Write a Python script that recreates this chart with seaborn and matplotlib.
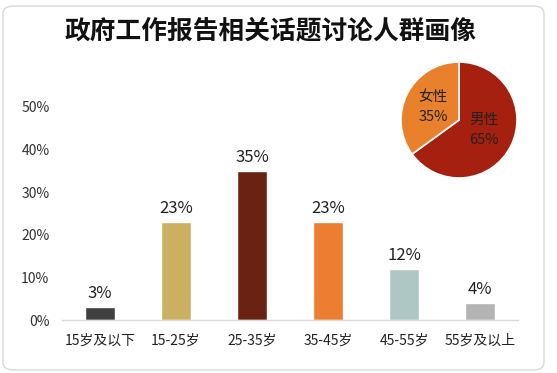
import matplotlib
matplotlib.use("Agg")
import matplotlib.pyplot as plt
from matplotlib.patches import FancyBboxPatch
import seaborn as sns
import pandas as pd

categories = ["15岁及以下", "15-25岁", "25-35岁", "35-45岁", "45-55岁", "55岁及以上"]
values = [0.03, 0.23, 0.35, 0.23, 0.12, 0.04]
bar_colors = ["#404040", "#CBB062", "#6A2212", "#EC7D31", "#AEC6C4", "#B4B4B4"]
yticks = [0, 0.1, 0.2, 0.3, 0.4, 0.5]
ytick_labels = ["0%", "10%", "20%", "30%", "40%", "50%"]
pie_labels = ["男性", "女性"]
pie_values = [0.65, 0.35]
pie_colors = ["#A5200F", "#E8802C"]
title = "政府工作报告相关话题讨论人群画像"

sns.set_theme(style="white")
plt.rcParams['font.family'] = ['Noto Sans CJK SC', 'DejaVu Sans']

W, H = 557, 373
fig = plt.figure(figsize=(W / 100, H / 100), dpi=100)

# rounded border
border = FancyBboxPatch((3 / W, 3 / H), 541 / W, 364 / H,
                        boxstyle="round,pad=0,rounding_size=0.02",
                        transform=fig.transFigure, fill=False,
                        edgecolor="#D9D9D9", linewidth=1.0)
fig.patches.append(border)

fig.text(270 / W, 1 - 31 / H, title, ha="center", va="center",
         fontsize=18.5, fontweight="heavy", color="#111111")

# bar axes: x from 62 to 518 px, y0=320, y50%=107
ax = fig.add_axes([62 / W, 1 - 320 / H, 456 / W, (320 - 107) / H])
df = pd.DataFrame({"cat": categories, "val": values})
sns.barplot(data=df, x="cat", y="val", hue="cat", palette=bar_colors,
            width=0.4, ax=ax, legend=False, saturation=1)
ax.set_xlim(-0.5, len(categories) - 0.5)
ax.set_ylim(0, 0.5)
ax.set_yticks(yticks)
ax.set_yticklabels(ytick_labels, fontsize=10, color="#333333")
ax.tick_params(axis="x", labelsize=10, colors="#222222", pad=10, length=0)
ax.tick_params(axis="y", pad=9, length=0)
ax.set_xlabel("")
ax.set_ylabel("")
for s in ["top", "right", "left"]:
    ax.spines[s].set_visible(False)
ax.spines["bottom"].set_color("#D9D9D9")
ax.spines["bottom"].set_linewidth(1.0)
ax.patch.set_alpha(0)
for i, v in enumerate(values):
    ax.text(i, v + 0.012, f"{round(v * 100)}%", ha="center", va="bottom",
            fontsize=12, color="#222222")

# pie axes: center (459,120), radius 58
r = 58
pax = fig.add_axes([(459 - r) / W, 1 - (120 + r) / H, 2 * r / W, 2 * r / H])
pax.pie(pie_values, colors=pie_colors, startangle=90, counterclock=False,
        wedgeprops=dict(edgecolor="white", linewidth=1.2))
pax.set_aspect("equal")
pax.set_xlim(-1, 1)
pax.set_ylim(-1, 1)
pax.text(0.43, -0.17, f"{pie_labels[0]}\n{round(pie_values[0]*100)}%", ha="center",
         va="center", fontsize=10.5, color="#222222", linespacing=1.55)
pax.text(-0.45, 0.23, f"{pie_labels[1]}\n{round(pie_values[1]*100)}%", ha="center",
         va="center", fontsize=10.5, color="#222222", linespacing=1.55)

fig.savefig("out.png", dpi=100)
